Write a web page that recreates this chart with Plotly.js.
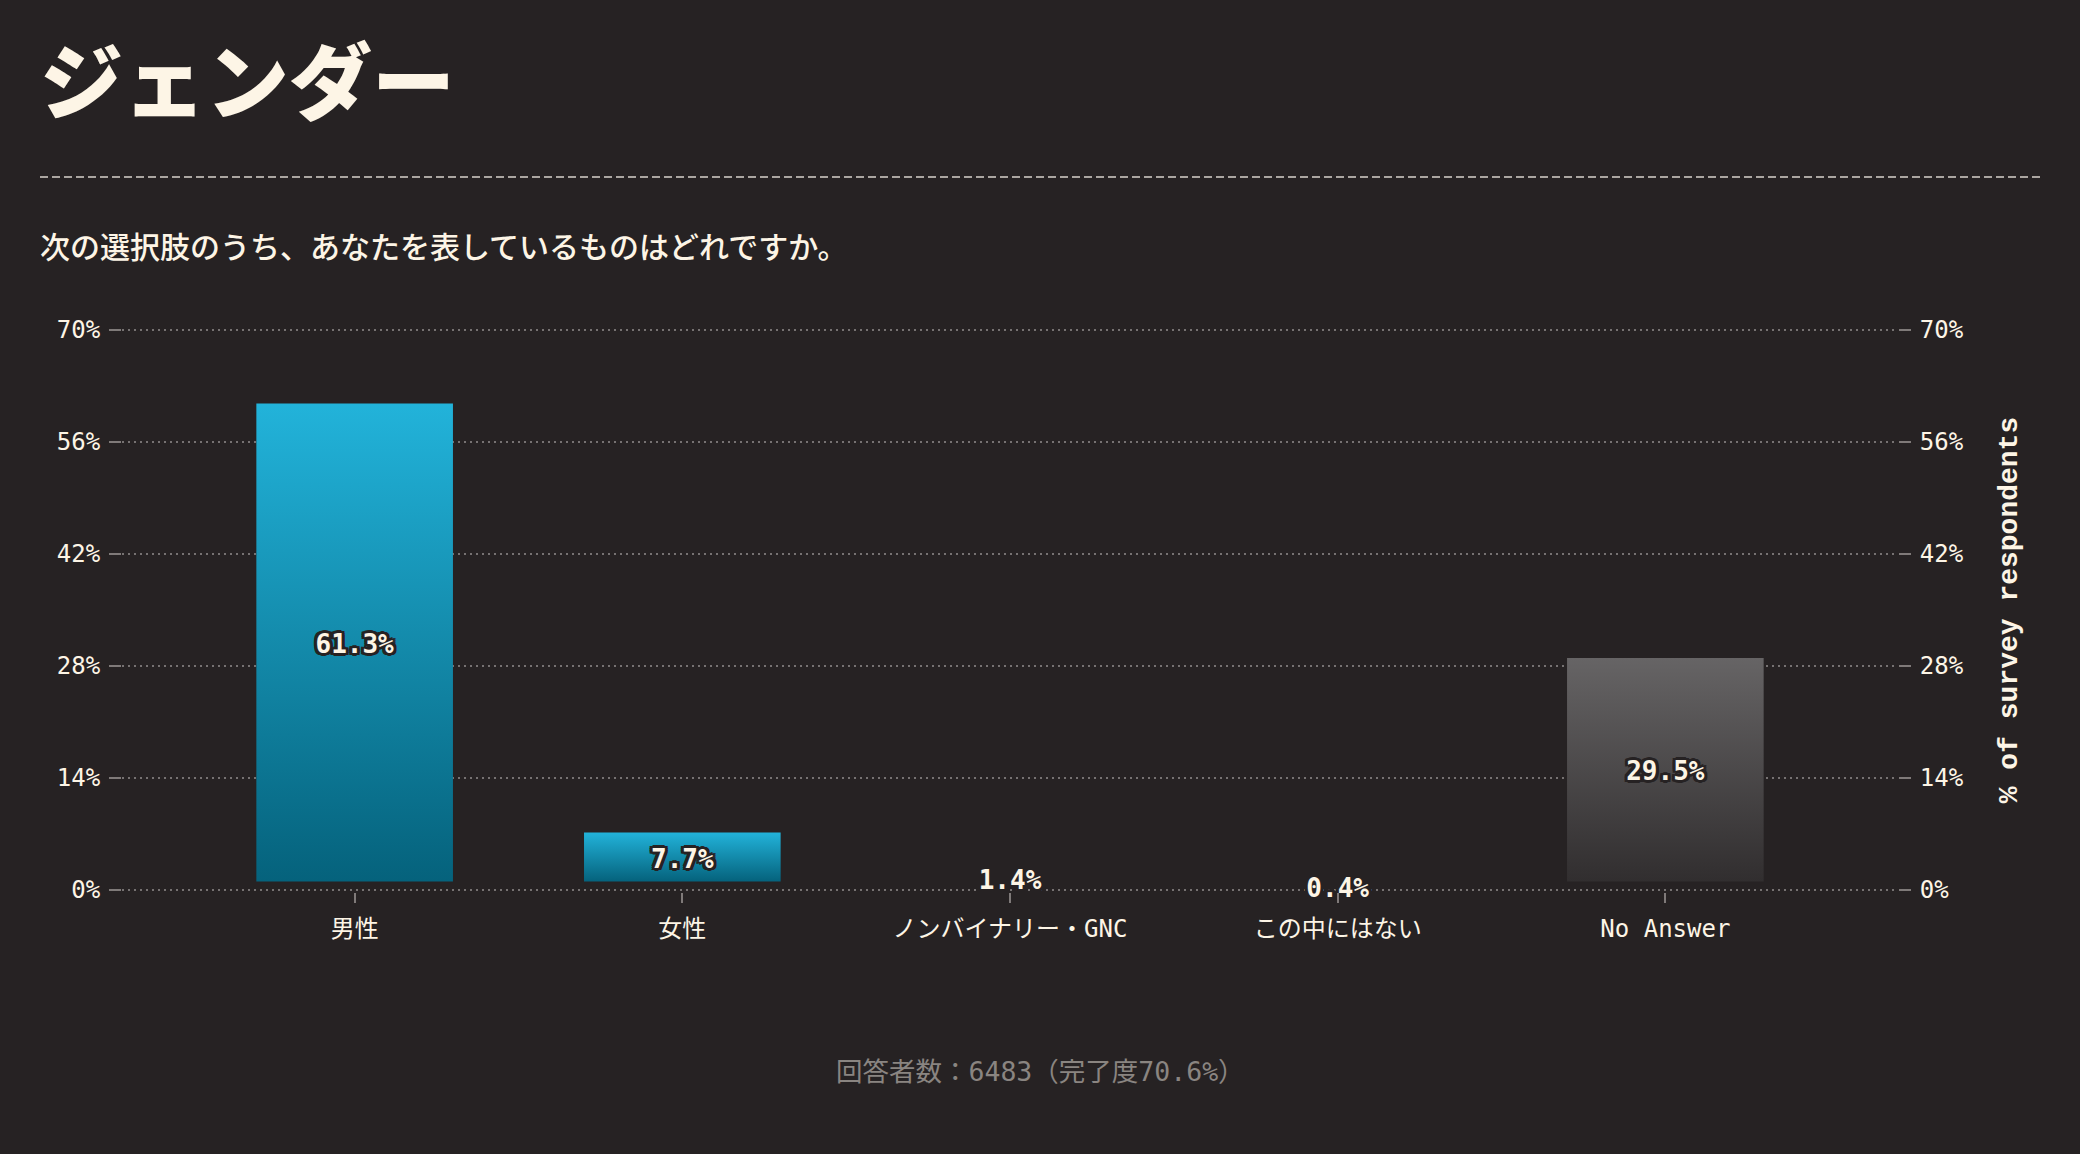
<!DOCTYPE html>
<html>
<head>
<meta charset="utf-8">
<script src="https://cdn.plot.ly/plotly-3.0.1.min.js"></script>
<style>
  html, body { margin: 0; padding: 0; background: #262223; }
  #chart { width: 2080px; height: 1154px; }
</style>
</head>
<body>
<div id="chart"></div>
<script>
// ---- data ----
const categories = ['男性', '女性', 'ノンバイナリー・GNC', 'この中にはない', 'No Answer'];
const shares = [61.3, 7.7, 1.4, 0.4, 29.5];
const yTickValues = [0, 14, 28, 42, 56, 70];
const chartTitle = 'ジェンダー';
const question = '次の選択肢のうち、あなたを表しているものはどれですか。';
const footerText = '回答者数：6483（完了度70.6%）';
const axisTitle = '% of survey respondents';
const noAnswerCategory = 'No Answer';

// ---- styles ----
const BG = '#262223';
const CREAM = '#fdf5e6';
const TICK = '#7f7a79';
const GRID = '#767272';
const FOOT = '#8a8581';
const BLUE_TOP = '#22b3da', BLUE_BOTTOM = '#05627c';
const GREY_TOP = '#666465', GREY_BOTTOM = '#312e2f';
const BAR_WIDTH = 0.6;
const BOTTOM_INSET = 1.05;   // visual gap above baseline (axis units)
const TOP_INSET = 0.5;       // visual inset below the value (axis units)
const LABEL_SHIFT = -0.5;    // small downward nudge of value labels (axis units)
const RANGE_PAD = 0.25;      // keeps 0% and 70% grid lines inside the plot
const MONO = '"DejaVu Sans Mono", "Noto Sans CJK JP", monospace';
const CJK = '"Noto Sans CJK JP", sans-serif';

const idx = categories.map((_, i) => i);
const traces = [];

categories.forEach((cat, i) => {
  const v = shares[i];
  const bottom = BOTTOM_INSET;
  const top = Math.max(v - TOP_INSET, bottom);
  const isGrey = cat === noAnswerCategory;
  traces.push({
    type: 'scatter',
    mode: 'lines',
    x: [i - BAR_WIDTH / 2, i + BAR_WIDTH / 2, i + BAR_WIDTH / 2, i - BAR_WIDTH / 2, i - BAR_WIDTH / 2],
    y: [bottom, bottom, top, top, bottom],
    fill: 'toself',
    line: { width: 0, color: 'rgba(0,0,0,0)' },
    fillcolor: isGrey ? GREY_TOP : BLUE_TOP,
    fillgradient: {
      type: 'vertical',
      colorscale: [[0, isGrey ? GREY_BOTTOM : BLUE_BOTTOM], [1, isGrey ? GREY_TOP : BLUE_TOP]]
    },
    hoverinfo: 'skip',
    showlegend: false
  });
});

const outline = [
  '2px 2px 0 ' + BG, '-2px -2px 0 ' + BG, '2px -2px 0 ' + BG, '-2px 2px 0 ' + BG,
  '0 2px 0 ' + BG, '2px 0 0 ' + BG, '0 -2px 0 ' + BG, '-2px 0 0 ' + BG,
  '3px 0 0 ' + BG, '-3px 0 0 ' + BG, '0 3px 0 ' + BG, '0 -3px 0 ' + BG,
  '3px 2px 0 ' + BG, '-3px 2px 0 ' + BG, '3px -2px 0 ' + BG, '-3px -2px 0 ' + BG
].join(', ');

traces.push({
  type: 'scatter',
  mode: 'text',
  x: idx,
  y: shares.map(v => (v >= 5 ? (BOTTOM_INSET + v - TOP_INSET) / 2 : v) + LABEL_SHIFT),
  text: shares.map(v => v.toFixed(1) + '%'),
  textposition: 'middle center',
  textfont: { family: MONO, size: 26, color: CREAM, weight: 'bold', shadow: outline },
  yaxis: 'y2',
  hoverinfo: 'skip',
  showlegend: false,
  cliponaxis: false
});

// pixel frame: 0% at y=890, 70% at y=330 (8 px per %)
const PPU = 8;
const plotL = 122, plotR = 1898;
const plotT = 330 - RANGE_PAD * PPU, plotB = 890 + RANGE_PAD * PPU;
const pw = plotR - plotL, ph = plotB - plotT;
const px = X => (X - plotL) / pw;
const py = Y => (plotB - Y) / ph;

const yCommon = {
  range: [-RANGE_PAD, 70 + RANGE_PAD],
  tickvals: yTickValues,
  ticktext: yTickValues.map(v => v + '%'),
  ticks: 'outside',
  ticklen: 12,
  tickwidth: 2,
  tickcolor: TICK,
  ticklabelstandoff: 4,
  zeroline: false,
  showline: false,
  fixedrange: true,
  tickfont: { family: MONO, size: 24, color: CREAM }
};

const layout = {
  width: 2080,
  height: 1154,
  paper_bgcolor: BG,
  plot_bgcolor: BG,
  margin: { l: plotL, r: 2080 - plotR, t: plotT, b: 1154 - plotB, autoexpand: false },
  font: { family: MONO, color: CREAM, size: 24 },
  showlegend: false,
  title: {
    text: chartTitle,
    xref: 'container', yref: 'container',
    x: 40 / 2080, xanchor: 'left',
    y: 1 - 84 / 1154, yanchor: 'middle',
    font: { family: CJK, size: 83, weight: 900, color: CREAM }
  },
  xaxis: {
    range: [-0.71, 4.71],
    tickvals: idx,
    ticktext: categories,
    ticks: 'outside',
    ticklen: 10,
    tickwidth: 2,
    tickcolor: TICK,
    ticklabelstandoff: 5,
    showgrid: false,
    zeroline: false,
    showline: false,
    fixedrange: true,
    tickfont: { family: MONO, size: 24, color: CREAM }
  },
  yaxis: Object.assign({}, yCommon, {
    side: 'left',
    showgrid: true,
    gridcolor: GRID,
    gridwidth: 2,
    griddash: '2px,4px'
  }),
  yaxis2: Object.assign({}, yCommon, {
    side: 'right',
    overlaying: 'y',
    showgrid: false,
    title: {
      text: axisTitle,
      standoff: 34,
      font: { family: '"Liberation Mono", monospace', size: 28, weight: 'bold', color: CREAM }
    }
  }),
  shapes: [{
    type: 'line', xref: 'paper', yref: 'paper',
    x0: px(40), x1: px(2040), y0: py(177), y1: py(177),
    line: { color: '#d8d2cb', width: 1.5, dash: '8px,4px' }
  }],
  annotations: [
    {
      text: question, xref: 'paper', yref: 'paper',
      x: px(38), y: py(245), xanchor: 'left', yanchor: 'middle',
      showarrow: false,
      font: { family: CJK, size: 30, weight: 500, color: CREAM }
    },
    {
      text: footerText, xref: 'paper', yref: 'paper',
      x: px(1040), y: py(1071), xanchor: 'center', yanchor: 'middle',
      showarrow: false,
      font: { family: MONO, size: 26.5, color: FOOT }
    }
  ]
};

Plotly.newPlot('chart', traces, layout, { displayModeBar: false, staticPlot: true });
</script>
</body>
</html>
